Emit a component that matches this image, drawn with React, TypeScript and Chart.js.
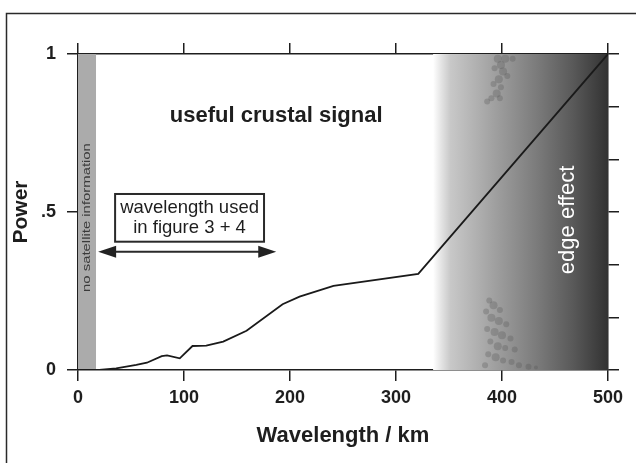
import { useEffect, useRef } from "react";
import { Chart, registerables } from "chart.js";

Chart.register(...registerables);

// ---- data ----
const wavelengthKm = [0, 20, 36, 55, 65, 79, 84, 96, 108, 121, 137, 159, 193, 209, 241, 321, 500];
const powerValues = [0, 0, 0.005, 0.016, 0.023, 0.044, 0.046, 0.037, 0.076, 0.077, 0.09, 0.124, 0.208, 0.232, 0.266, 0.304, 1];
const xTickValues = [0, 100, 200, 300, 400, 500];
const xTickLabels = ["0", "100", "200", "300", "400", "500"];
const yTickValues = [0, 0.5, 1];
const yTickLabels = ["0", ".5", "1"];
const rightTickValues = [0, 1 / 6, 2 / 6, 3 / 6, 4 / 6, 5 / 6, 1];
const noSatelliteRange = [0, 17];
const edgeEffectRange = [335, 500];
const usedRange = [19, 187];

const FONT = "'Liberation Sans', Arial, Helvetica, sans-serif";
const INK = "#1e1e1e";

// texture patches (km, power, radius px)
const blotches = [
  [396, 0.985, 4], [403, 0.985, 4], [410, 0.985, 3], [399, 0.965, 4], [393, 0.955, 3],
  [401, 0.945, 4], [405, 0.93, 3], [397, 0.92, 4], [392, 0.905, 3], [399, 0.895, 3],
  [395, 0.875, 4], [390, 0.86, 3], [386, 0.85, 3], [398, 0.86, 3],
  [388, 0.22, 3], [392, 0.205, 4], [398, 0.19, 3], [385, 0.185, 3], [390, 0.165, 4],
  [397, 0.155, 4], [404, 0.145, 3], [386, 0.13, 3], [393, 0.12, 4], [400, 0.11, 4],
  [408, 0.1, 3], [389, 0.09, 3], [396, 0.075, 4], [403, 0.07, 3], [412, 0.065, 3],
  [387, 0.05, 3], [394, 0.04, 4], [401, 0.03, 3], [409, 0.025, 3], [416, 0.015, 3],
  [425, 0.01, 3], [432, 0.008, 2], [384, 0.015, 3],
];

const decorPlugin = {
  id: "decor",
  beforeDraw(chart: any) {
    const { ctx, width, height } = chart;
    ctx.save();
    ctx.strokeStyle = "#2a2a2a";
    ctx.lineWidth = 1.5;
    ctx.beginPath();
    ctx.moveTo(6.5, height);
    ctx.lineTo(6.5, 13.5);
    ctx.lineTo(width, 13.5);
    ctx.stroke();
    ctx.restore();
  },
  beforeDatasetsDraw(chart: any) {
    const { ctx } = chart;
    const x = chart.scales.x;
    const y = chart.scales.y;
    const top = y.getPixelForValue(1);
    const bottom = y.getPixelForValue(0);
    ctx.save();
    // no satellite band
    const b0 = x.getPixelForValue(noSatelliteRange[0]);
    const b1 = x.getPixelForValue(noSatelliteRange[1]);
    ctx.fillStyle = "#ababab";
    ctx.fillRect(b0, top, b1 - b0, bottom - top);
    // edge effect gradient
    const e0 = x.getPixelForValue(edgeEffectRange[0]);
    const e1 = x.getPixelForValue(edgeEffectRange[1]);
    const g = ctx.createLinearGradient(e0, 0, e1, 0);
    g.addColorStop(0, "rgba(255,255,255,1)");
    g.addColorStop(0.05, "#e2e2e2");
    g.addColorStop(0.1, "#c8c8c8");
    g.addColorStop(0.35, "#a0a0a0");
    g.addColorStop(0.6, "#7a7a7a");
    g.addColorStop(0.8, "#595959");
    g.addColorStop(1, "#323232");
    ctx.fillStyle = g;
    ctx.fillRect(e0, top, e1 - e0, bottom - top);
    // darker blotches
    ctx.fillStyle = "rgba(80,80,80,0.28)";
    for (const [bx, by, r] of blotches) {
      ctx.beginPath();
      ctx.arc(x.getPixelForValue(bx), y.getPixelForValue(by), r, 0, Math.PI * 2);
      ctx.fill();
    }
    ctx.restore();
  },
  afterDatasetsDraw(chart: any) {
    const { ctx } = chart;
    const x = chart.scales.x;
    const y = chart.scales.y;
    ctx.save();
    // no satellite information
    {
      const cx = x.getPixelForValue((noSatelliteRange[0] + noSatelliteRange[1]) / 2);
      const yTop = y.getPixelForValue(0.718);
      const yBot = y.getPixelForValue(0.247);
      ctx.save();
      ctx.font = `11px ${FONT}`;
      const label = "no satellite information";
      const w = ctx.measureText(label).width;
      ctx.translate(cx, (yTop + yBot) / 2);
      ctx.rotate(-Math.PI / 2);
      ctx.scale((yBot - yTop) / w, 1);
      ctx.fillStyle = "#3a3a3a";
      ctx.textAlign = "center";
      ctx.textBaseline = "middle";
      ctx.fillText(label, 0, 0);
      ctx.restore();
    }
    // useful crustal signal
    ctx.fillStyle = INK;
    ctx.font = `bold 22px ${FONT}`;
    ctx.textAlign = "center";
    ctx.textBaseline = "alphabetic";
    ctx.fillText("useful crustal signal", x.getPixelForValue(187), y.getPixelForValue(0.785));
    // box
    const bx0 = x.getPixelForValue(35);
    const bx1 = x.getPixelForValue(175.5);
    const by0 = y.getPixelForValue(0.557);
    const by1 = y.getPixelForValue(0.406);
    ctx.strokeStyle = "#2a2a2a";
    ctx.lineWidth = 2;
    ctx.strokeRect(bx0, by0, bx1 - bx0, by1 - by0);
    ctx.font = `18.5px ${FONT}`;
    ctx.fillStyle = INK;
    const bcx = (bx0 + bx1) / 2;
    ctx.fillText("wavelength used", bcx, y.getPixelForValue(0.497));
    ctx.fillText("in figure 3 + 4", bcx, y.getPixelForValue(0.434));
    // arrow
    const ax0 = x.getPixelForValue(usedRange[0]);
    const ax1 = x.getPixelForValue(usedRange[1]);
    const ay = y.getPixelForValue(0.374);
    ctx.lineWidth = 2;
    ctx.beginPath();
    ctx.moveTo(ax0 + 10, ay);
    ctx.lineTo(ax1 - 10, ay);
    ctx.stroke();
    ctx.fillStyle = "#222";
    ctx.beginPath();
    ctx.moveTo(ax0, ay);
    ctx.lineTo(ax0 + 18, ay - 6);
    ctx.lineTo(ax0 + 18, ay + 6);
    ctx.closePath();
    ctx.fill();
    ctx.beginPath();
    ctx.moveTo(ax1, ay);
    ctx.lineTo(ax1 - 18, ay - 6);
    ctx.lineTo(ax1 - 18, ay + 6);
    ctx.closePath();
    ctx.fill();
    // edge effect
    ctx.save();
    ctx.translate(x.getPixelForValue(462), y.getPixelForValue(0.475));
    ctx.rotate(-Math.PI / 2);
    ctx.fillStyle = "#ffffff";
    ctx.font = `22px ${FONT}`;
    ctx.textAlign = "center";
    ctx.textBaseline = "middle";
    ctx.fillText("edge effect", 0, 0);
    ctx.restore();
    ctx.restore();
  },
};

const gridOpts = {
  drawOnChartArea: false,
  drawTicks: true,
  tickLength: 11,
  color: "#1e1e1e",
  lineWidth: 1.5,
};
const borderOpts = { display: true, color: "#1e1e1e", width: 1.5 };

export default function App() {
  const ref = useRef<HTMLCanvasElement>(null);
  useEffect(() => {
    if (!ref.current) return;
    const chart = new Chart(ref.current, {
      type: "line",
      data: {
        datasets: [
          {
            data: wavelengthKm.map((w, i) => ({ x: w, y: powerValues[i] })),
            borderColor: "#1a1a1a",
            borderWidth: 1.8,
            pointRadius: 0,
            tension: 0,
            fill: false,
          },
        ],
      },
      options: {
        animation: false,
        responsive: false,
        events: [],
        layout: { padding: 0 },
        plugins: { legend: { display: false }, tooltip: { enabled: false }, title: { display: false } },
        scales: {
          x: {
            type: "linear",
            position: "bottom",
            min: 0,
            max: 500,
            afterBuildTicks: (s: any) => { s.ticks = xTickValues.map((v) => ({ value: v })); },
            afterFit: (s: any) => { s.height = 93; },
            ticks: {
              callback: (v: any) => xTickLabels[xTickValues.indexOf(Number(v))] ?? "",
              font: { family: FONT, size: 18, weight: "bold" },
              color: INK,
              padding: 6,
              maxRotation: 0,
            },
            grid: gridOpts,
            border: borderOpts,
            title: {
              display: true,
              text: "Wavelength / km",
              font: { family: FONT, size: 22, weight: "bold" },
              color: INK,
              padding: { top: 0, bottom: 14 },
            },
          },
          x2: {
            type: "linear",
            position: "top",
            min: 0,
            max: 500,
            afterBuildTicks: (s: any) => { s.ticks = xTickValues.map((v) => ({ value: v })); },
            afterFit: (s: any) => { s.height = 54; },
            ticks: { display: false },
            grid: gridOpts,
            border: borderOpts,
          },
          y: {
            type: "linear",
            position: "left",
            min: 0,
            max: 1,
            afterBuildTicks: (s: any) => { s.ticks = yTickValues.map((v) => ({ value: v })); },
            afterFit: (s: any) => { s.width = 78; },
            ticks: {
              callback: (v: any) => yTickLabels[yTickValues.indexOf(Number(v))] ?? "",
              font: { family: FONT, size: 18, weight: "bold" },
              color: INK,
              padding: 11,
            },
            grid: gridOpts,
            border: borderOpts,
            title: {
              display: true,
              text: "Power",
              font: { family: FONT, size: 21, weight: "bold" },
              color: INK,
              padding: { top: 9, bottom: 0 },
            },
          },
          y2: {
            type: "linear",
            position: "right",
            min: 0,
            max: 1,
            afterBuildTicks: (s: any) => { s.ticks = rightTickValues.map((v) => ({ value: v })); },
            afterFit: (s: any) => { s.width = 28; },
            ticks: { display: false },
            grid: gridOpts,
            border: borderOpts,
          },
        },
      },
      plugins: [decorPlugin],
    } as any);
    return () => chart.destroy();
  }, []);
  return (
    <canvas
      ref={ref}
      width={636}
      height={463}
      style={{ position: "absolute", left: 0, top: 0, width: 636, height: 463 }}
    />
  );
}
